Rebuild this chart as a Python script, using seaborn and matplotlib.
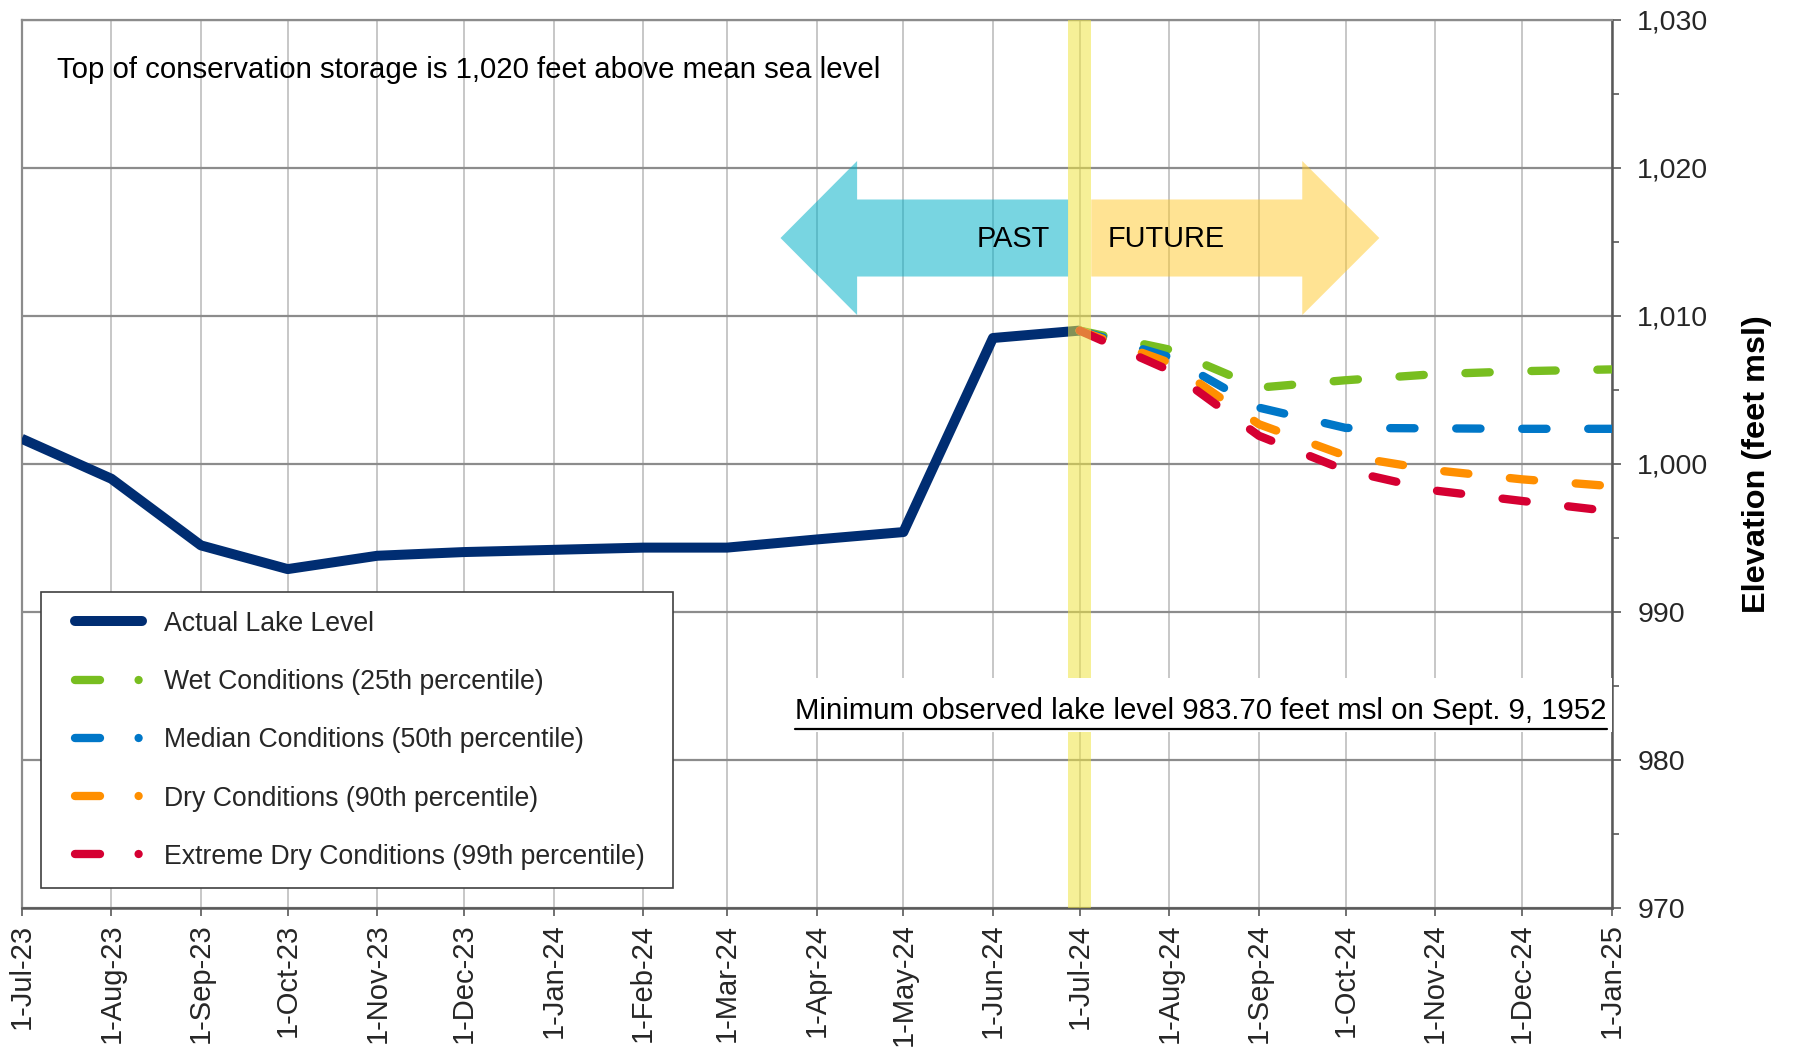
import numpy as np
import pandas as pd
import matplotlib
matplotlib.use('Agg')
import matplotlib.pyplot as plt
import matplotlib.dates as mdates
from matplotlib.lines import Line2D
from matplotlib.patches import Polygon, Rectangle
from matplotlib.ticker import MultipleLocator, FuncFormatter, FixedLocator
import seaborn as sns

# ---------------- data ----------------
actual_dates = ['2023-07-01', '2023-08-01', '2023-09-01', '2023-10-01', '2023-11-01',
                '2023-12-01', '2024-01-01', '2024-02-01', '2024-03-01', '2024-04-01',
                '2024-05-01', '2024-06-01', '2024-07-01']
actual_level = [1001.7, 999.0, 994.5, 992.9, 993.8, 994.05, 994.2, 994.35, 994.35,
                994.9, 995.4, 1008.5, 1009.0]

forecast_dates = ['2024-07-01', '2024-08-01', '2024-09-01', '2024-10-01',
                  '2024-11-01', '2024-12-01', '2025-01-01']
wet_level = [1009.0, 1007.72, 1005.15, 1005.65, 1006.06, 1006.26, 1006.38]
median_level = [1009.0, 1007.22, 1003.8, 1002.43, 1002.4, 1002.37, 1002.37]
dry_level = [1009.0, 1006.84, 1002.68, 1000.55, 999.57, 998.96, 998.5]
extreme_level = [1009.0, 1006.32, 1001.9, 999.57, 998.2, 997.5, 996.8]

series_labels = ['Actual Lake Level',
                 'Wet Conditions (25th percentile)',
                 'Median Conditions (50th percentile)',
                 'Dry Conditions (90th percentile)',
                 'Extreme Dry Conditions (99th percentile)']

tick_dates = ['2023-07-01', '2023-08-01', '2023-09-01', '2023-10-01', '2023-11-01',
              '2023-12-01', '2024-01-01', '2024-02-01', '2024-03-01', '2024-04-01',
              '2024-05-01', '2024-06-01', '2024-07-01', '2024-08-01', '2024-09-01',
              '2024-10-01', '2024-11-01', '2024-12-01', '2025-01-01']
tick_labels = ['1-Jul-23', '1-Aug-23', '1-Sep-23', '1-Oct-23', '1-Nov-23', '1-Dec-23',
               '1-Jan-24', '1-Feb-24', '1-Mar-24', '1-Apr-24', '1-May-24', '1-Jun-24',
               '1-Jul-24', '1-Aug-24', '1-Sep-24', '1-Oct-24', '1-Nov-24', '1-Dec-24',
               '1-Jan-25']
y_ticks = [970, 980, 990, 1000, 1010, 1020, 1030]

top_note = 'Top of conservation storage is 1,020 feet above mean sea level'
min_note = 'Minimum observed lake level 983.70 feet msl on Sept. 9, 1952'

# ---------------- style ----------------
sns.set_theme(style='white')
plt.rcParams['font.family'] = ['Liberation Sans', 'DejaVu Sans']
plt.rcParams['lines.scale_dashes'] = False

navy = '#002D72'
colors = ['#78BE20', '#0077C8', '#FF8F00', '#D50032']
FS_LEG = 19.2
FS_NOTE = 21.15
FS_TICK_Y = 20.5
FS_TICK_X = 21

fig = plt.figure(figsize=(17.96, 10.49), dpi=100)
ax = fig.add_axes([0.0121, 0.1341, 0.8852, 0.8473])

d = lambda s: mdates.date2num(pd.Timestamp(s))
px = 72 / 100.0

# actual line
sns.lineplot(x=pd.to_datetime(actual_dates), y=actual_level, ax=ax, color=navy,
             linewidth=7.2, zorder=3)
ln = ax.get_lines()[-1]
ln.set_solid_joinstyle('round')
ln.set_solid_capstyle('butt')

# forecast lines
dash = (0, (24.3 * px, 41.7 * px))
for vals, c in zip([wet_level, median_level, dry_level, extreme_level], colors):
    sns.lineplot(x=pd.to_datetime(forecast_dates), y=vals, ax=ax, color=c,
                 linewidth=6.0, zorder=4)
    l = ax.get_lines()[-1]
    l.set_linestyle(dash)
    l.set_dash_capstyle('round')
    l.set_dash_joinstyle('round')

# axes limits / ticks
ax.set_xlim(d('2023-07-01'), d('2025-01-01'))
ax.set_ylim(970, 1030)
ax.xaxis.set_major_locator(FixedLocator([d(t) for t in tick_dates]))
ax.set_xticklabels(tick_labels)
ax.yaxis.tick_right()
ax.yaxis.set_label_position('right')
ax.yaxis.set_major_locator(FixedLocator(y_ticks))
ax.yaxis.set_minor_locator(MultipleLocator(5))
ax.yaxis.set_major_formatter(FuncFormatter(lambda v, p: f'{v:,.0f}'))
ax.set_xlabel('')

ax.tick_params(axis='x', which='major', direction='out', length=6, width=1.2,
               color='#595959', labelsize=FS_TICK_X, pad=5, labelrotation=90, bottom=True)
ax.tick_params(axis='y', which='major', direction='out', length=6.5, width=1.2,
               color='#595959', labelsize=FS_TICK_Y, pad=12, right=True, left=False,
               labelright=True, labelleft=False)
ax.tick_params(axis='y', which='minor', direction='out', length=4.8, width=1.2,
               color='#595959', right=True, left=False)
for lab in ax.get_xticklabels():
    lab.set_verticalalignment('top')
    lab.set_horizontalalignment('center')

ax.set_axisbelow(True)
ax.grid(True, axis='x', which='major', color='#C3C3C3', linewidth=1.3, zorder=0.5)
ax.grid(True, axis='y', which='major', color='#8C8C8C', linewidth=1.6, zorder=0.5)

for side in ['left', 'top']:
    ax.spines[side].set_color('#8C8C8C')
    ax.spines[side].set_linewidth(1.6)
for side in ['right', 'bottom']:
    ax.spines[side].set_color('#595959')
    ax.spines[side].set_linewidth(1.8)

ax.set_ylabel('Elevation (feet msl)', fontsize=23.4, fontweight='bold', labelpad=24,
              color='black')

# PAST / FUTURE arrows
yc, body, head = 1015.25, 2.6, 5.2
past = Polygon([(d('2024-03-19 12:00'), yc), (d('2024-04-15'), yc + head),
                (d('2024-04-15'), yc + body), (d('2024-06-27'), yc + body),
                (d('2024-06-27'), yc - body), (d('2024-04-15'), yc - body),
                (d('2024-04-15'), yc - head)],
               closed=True, facecolor='#00B0C8', alpha=0.53, edgecolor='none', zorder=1.5)
future = Polygon([(d('2024-07-05'), yc + body), (d('2024-09-16'), yc + body),
                  (d('2024-09-16'), yc + head), (d('2024-10-12 16:00'), yc),
                  (d('2024-09-16'), yc - head), (d('2024-09-16'), yc - body),
                  (d('2024-07-05'), yc - body)],
                 closed=True, facecolor='#FFC828', alpha=0.5, edgecolor='none', zorder=1.5)
ax.add_patch(past)
ax.add_patch(future)
ax.text(d('2024-06-08'), 1015.2, 'PAST', fontsize=20.8, ha='center', va='center',
        color='black', zorder=7)
ax.text(d('2024-07-31'), 1015.2, 'FUTURE', fontsize=20.8, ha='center', va='center',
        color='black', zorder=7)

# yellow band at Jul-1-2024
ax.axvspan(d('2024-06-27'), d('2024-07-05'), color='#F0E442', alpha=0.55,
           linewidth=0, zorder=5)

# notes
ax.text(0.0222, 0.943, top_note, transform=ax.transAxes, fontsize=FS_NOTE,
        ha='left', va='center', color='black', zorder=7)

ax.add_patch(Rectangle((0.48, 0.198), 0.52, 0.061, transform=ax.transAxes,
                       facecolor='white', edgecolor='none', zorder=6))
mt = ax.text(0.997, 0.2215, min_note, transform=ax.transAxes, fontsize=FS_NOTE,
             ha='right', va='center', color='black', zorder=7)

# legend (content without frame, frame drawn as a box)
ax.add_patch(Rectangle((0.0122, 0.0232), 0.3977, 0.3325, transform=ax.transAxes,
                       facecolor='white', edgecolor='#404040', linewidth=1.2, zorder=8))
handles = [Line2D([0], [0], color=navy, linewidth=7.2, solid_capstyle='round')]
for c in colors:
    handles.append(Line2D([0], [0], color=c, linewidth=6.0,
                          linestyle=(0, (25 * px, 38.6 * px, 0.01, 200)),
                          dash_capstyle='round'))
leg = ax.legend(handles, series_labels, loc='upper left', bbox_to_anchor=(0.0335, 0.3348),
                borderaxespad=0, fontsize=FS_LEG, frameon=False, handlelength=2.52,
                handletextpad=0.8, labelspacing=1.21, borderpad=0)
leg.set_zorder(9)

# underline for the minimum note
fig.canvas.draw()
bb = mt.get_window_extent(fig.canvas.get_renderer())
inv = ax.transAxes.inverted()
(x0, y0), (x1, y1) = inv.transform([(bb.x0, bb.y0), (bb.x1, bb.y0)])
ax.add_line(Line2D([x0, x1], [y0 - 0.004, y0 - 0.004], transform=ax.transAxes,
                   color='black', linewidth=1.6, zorder=7))

fig.savefig('out.png', dpi=100)
